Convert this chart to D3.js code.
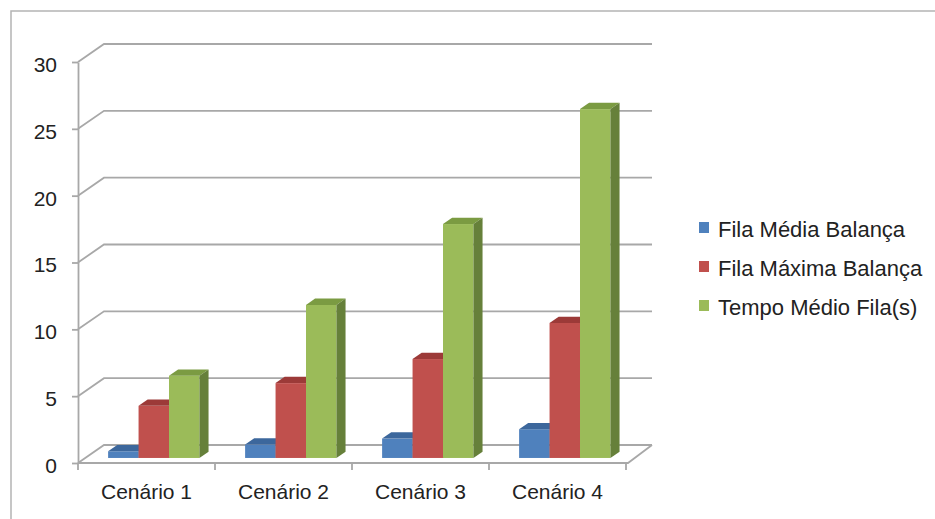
<!DOCTYPE html>
<html>
<head>
<meta charset="utf-8">
<script src="https://cdn.jsdelivr.net/npm/d3@7"></script>
<style>
  html, body { margin: 0; padding: 0; background: #fff; }
  svg { display: block; font-family: "Liberation Sans", Arial, sans-serif; }
</style>
</head>
<body>
<svg id="chart" width="935" height="519"></svg>
<script>
// Categories, series and values
const categories = ["Cenário 1", "Cenário 2", "Cenário 3", "Cenário 4"];
const seriesNames = ["Fila Média Balança", "Fila Máxima Balança", "Tempo Médio Fila(s)"];
const filaMedia   = [0.5, 1.0, 1.45, 2.15];
const filaMaxima  = [3.9, 5.6, 7.4, 10.1];
const tempoMedio  = [6.15, 11.45, 17.5, 26.1];
const yTicks = [0, 5, 10, 15, 20, 25, 30];

const seriesValues = [filaMedia, filaMaxima, tempoMedio];
// front, top, side shades for each series
const faceColors = [
  { front: "#4f81bd", top: "#3c679c", side: "#345a89" },
  { front: "#c0504d", top: "#9c3a38", side: "#8c3331" },
  { front: "#9bbb59", top: "#7b9b42", side: "#66803a" }
];

const svg = d3.select("#chart");

// Plot area (front plane) and depth of the 3D box
const plotLeft = 78, plotRight = 626, plotTop = 62, plotBottom = 463;
const depthX = 26, depthY = -18;
const proj = (x, y, d) => [x + depthX * d, y + depthY * d];

const y = d3.scaleLinear().domain([0, 30]).range([plotBottom, plotTop]);
const x0 = d3.scaleBand().domain(categories).range([plotLeft, plotRight]).padding(0);
const gap = x0.bandwidth() * 0.75 / 4.5;
const x1 = d3.scaleBand().domain(d3.range(seriesNames.length))
  .range([gap, x0.bandwidth() - gap]).padding(0);

const gridColor = "#a8a8a8";

// Outer frame
svg.append("path")
  .attr("d", "M11,519 V11 H935")
  .attr("fill", "none")
  .attr("stroke", "#b4b4b4")
  .attr("stroke-width", 1.5);

// Gridlines on the side wall and back wall
const grid = svg.append("g").attr("fill", "none").attr("stroke", gridColor).attr("stroke-width", 1.8);
yTicks.forEach(t => {
  const p0 = [plotLeft, y(t)];
  const p1 = proj(plotLeft, y(t), 1);
  const p2 = proj(plotRight, y(t), 1);
  grid.append("path").attr("d", `M${p0}L${p1}L${p2}`);
});

// Floor front edge and right edge
const fr = proj(plotRight, plotBottom, 1);
grid.append("path").attr("d", `M${plotLeft},${plotBottom}H${plotRight + 2}L${fr}`);
// Category boundary ticks
const bounds = categories.map(c => x0(c)).concat([plotRight]);
bounds.forEach(b => {
  grid.append("line").attr("x1", b).attr("x2", b).attr("y1", plotBottom).attr("y2", plotBottom + 7);
});

// Y axis
const yAxis = d3.axisLeft(y).tickValues(yTicks).tickSizeInner(6).tickSizeOuter(0).tickPadding(15);
const ya = svg.append("g").attr("transform", `translate(${plotLeft},0)`).call(yAxis);
ya.select(".domain").attr("stroke", gridColor).attr("stroke-width", 1.8);
ya.selectAll(".tick line").attr("stroke", gridColor).attr("stroke-width", 1.8);
ya.selectAll(".tick text")
  .attr("font-size", 21)
  .attr("fill", "#222")
  .attr("dy", "0.45em")
  .style("font-family", "'Liberation Sans', Arial, sans-serif");

// Category axis labels
const xAxis = d3.axisBottom(x0).tickSize(0).tickPadding(0);
const xa = svg.append("g").attr("transform", `translate(0,${plotBottom})`).call(xAxis);
xa.select(".domain").remove();
xa.selectAll(".tick text")
  .attr("font-size", 21)
  .attr("fill", "#222")
  .attr("dy", null)
  .attr("y", 36)
  .style("font-family", "'Liberation Sans', Arial, sans-serif");

// 3D columns
const d0 = 0.28, d1 = 0.63;
const bars = svg.append("g");
categories.forEach((c, ci) => {
  seriesValues.forEach((vals, si) => {
    const v = vals[ci];
    const xl = x0(c) + x1(si);
    const xr = xl + x1.bandwidth();
    const yt = y(v), yb = y(0);
    const col = faceColors[si];
    const g = bars.append("g");
    // front
    const a = proj(xl, yt, d0), b = proj(xr, yb, d0);
    g.append("rect").attr("x", a[0]).attr("y", a[1])
      .attr("width", b[0] - a[0]).attr("height", b[1] - a[1]).attr("fill", col.front);
    // top
    g.append("polygon")
      .attr("points", [proj(xl, yt, d0), proj(xr, yt, d0), proj(xr, yt, d1), proj(xl, yt, d1)].join(" "))
      .attr("fill", col.top);
    // side
    g.append("polygon")
      .attr("points", [proj(xr, yt, d0), proj(xr, yt, d1), proj(xr, yb, d1), proj(xr, yb, d0)].join(" "))
      .attr("fill", col.side);
  });
});

// Legend
const legend = svg.append("g").attr("transform", "translate(699,0)");
seriesNames.forEach((name, i) => {
  const base = 237 + i * 39;
  legend.append("rect").attr("x", 0).attr("y", base - 15).attr("width", 10).attr("height", 11)
    .attr("fill", faceColors[i].front);
  legend.append("text").attr("x", 19).attr("y", base)
    .attr("font-size", 22).attr("fill", "#222").text(name);
});
</script>
</body>
</html>
